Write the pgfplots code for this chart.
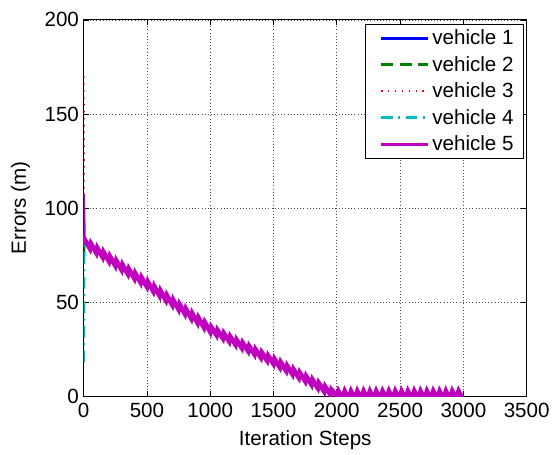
\documentclass[border=0pt]{standalone}
\usepackage{fontspec}
\setmainfont{Liberation Sans}
\usepackage{pgfplots}
\usepackage{pgfplotstable}
\pgfplotsset{compat=1.18}
\definecolor{mblue}{rgb}{0,0,1}
\definecolor{mgreen}{rgb}{0,0.5,0}
\definecolor{mred}{rgb}{1,0,0}
\definecolor{mcyan}{rgb}{0,0.75,0.75}
\definecolor{mmag}{rgb}{0.75,0,0.75}
\pgfplotstableread{
x y
3 80.8
8 83.3
50 78.5
58 81.0
100 76.25
108 78.75
150 74.0
158 76.5
200 71.75
208 74.25
250 69.5
258 72.0
300 67.25
308 69.75
350 65.0
358 67.5
400 62.75
408 65.25
450 60.5
458 63.0
500 58.25
508 60.75
550 55.85
558 58.35
600 53.45
608 55.95
650 51.05
658 53.55
700 48.65
708 51.15
750 46.25
758 48.75
800 43.85
808 46.35
850 41.45
858 43.95
900 39.05
908 41.55
950 36.65
958 39.15
1000 34.25
1008 36.75
1050 32.55
1058 35.05
1100 30.85
1108 33.35
1150 29.15
1158 31.65
1200 27.45
1208 29.95
1250 25.75
1258 28.25
1300 24.05
1308 26.55
1350 22.35
1358 24.85
1400 20.65
1408 23.15
1450 18.95
1458 21.45
1500 17.25
1508 19.75
1550 15.42
1558 17.92
1600 13.58
1608 16.08
1650 11.75
1658 14.25
1700 9.92
1708 12.42
1750 8.08
1758 10.58
1800 6.25
1808 8.75
1850 4.42
1858 6.92
1900 2.58
1908 5.08
1950 0.95
1958 3.45
2000 0.2
2012 2.6
2030 0.2
2050 0.2
2062 2.6
2080 0.2
2100 0.2
2112 2.6
2130 0.2
2150 0.2
2162 2.6
2180 0.2
2200 0.2
2212 2.6
2230 0.2
2250 0.2
2262 2.6
2280 0.2
2300 0.2
2312 2.6
2330 0.2
2350 0.2
2362 2.6
2380 0.2
2400 0.2
2412 2.6
2430 0.2
2450 0.2
2462 2.6
2480 0.2
2500 0.2
2512 2.6
2530 0.2
2550 0.2
2562 2.6
2580 0.2
2600 0.2
2612 2.6
2630 0.2
2650 0.2
2662 2.6
2680 0.2
2700 0.2
2712 2.6
2730 0.2
2750 0.2
2762 2.6
2780 0.2
2800 0.2
2812 2.6
2830 0.2
2850 0.2
2862 2.6
2880 0.2
2900 0.2
2912 2.6
2930 0.2
2950 0.2
2962 2.6
2980 0.2
3000 0.2
}\traj
\begin{document}
\begin{tikzpicture}
\begin{axis}[
  scale only axis,
  width=333.75pt, height=283.5pt,
  xmin=0, xmax=3500, ymin=0, ymax=200,
  xtick={0,500,...,3500}, ytick={0,50,...,200},
  scaled x ticks=false,
  /pgf/number format/assume math mode=true,
  /pgf/number format/set thousands separator={},
  tick label style={font=\fontsize{15.5}{18}\selectfont},
  xticklabel style={yshift=-1.5pt},
  label style={font=\fontsize{15.5}{18}\selectfont},
  xlabel={Iteration Steps}, ylabel={Errors (m)},
  xlabel style={yshift=-3pt}, ylabel style={yshift=4pt},
  tick align=inside, major tick length=4pt,
  xtick pos=both, ytick pos=both,
  axis line style={line width=0.9pt},
  every tick/.style={black, line width=0.6pt},
  grid=major,
  major grid style={dotted, black!70, line width=0.5pt},
  legend style={at={(rel axis cs:0.992,0.99)}, anchor=north east,
    font=\fontsize{15.5}{18}\selectfont, draw=black,
    row sep=3.2pt, inner xsep=5pt, inner ysep=2.5pt, cells={anchor=west}},
  legend image code/.code={\path (-0.2cm,0cm); \draw[#1] (0cm,0cm) -- (1.25cm,0cm);},
]
\addplot[mblue, line width=2.3pt] coordinates {(0,95) (3,80.8)};
\addplot[mblue, line width=1.8pt, forget plot] table[x=x,y=y] {\traj};
\addplot[mgreen, line width=2.3pt, dash pattern=on 9pt off 5pt] coordinates {(0,76) (3,80.8)};
\addplot[mgreen, line width=1.8pt, dash pattern=on 9pt off 5pt, forget plot] table[x=x,y=y] {\traj};
\addplot[mred, line width=1.6pt, dash pattern=on 1.2pt off 4pt] coordinates {(0,170) (3,80.8)};
\addplot[mred, line width=1.3pt, dash pattern=on 1.2pt off 4pt, forget plot] table[x=x,y=y] {\traj};
\addplot[mcyan, line width=2.3pt, dash pattern=on 9pt off 4pt on 1.5pt off 4pt] coordinates {(0,18) (3,80.8)};
\addplot[mcyan, line width=1.8pt, dash pattern=on 9pt off 4pt on 1.5pt off 4pt, forget plot] table[x=x,y=y] {\traj};
\addplot[mmag, line width=2.3pt] coordinates {(0,107) (3,80.8)};
\addplot[mmag, line width=3.6pt, forget plot] table[x=x,y=y] {\traj};
\legend{vehicle 1, vehicle 2, vehicle 3, vehicle 4, vehicle 5}
\end{axis}
\path (current axis.south west) ++(-63pt,-43.5pt) coordinate (bl);
\path (current axis.north east) ++(18.75pt,15pt) coordinate (tr);
\useasboundingbox (bl) rectangle (tr);
\end{tikzpicture}
\end{document}
